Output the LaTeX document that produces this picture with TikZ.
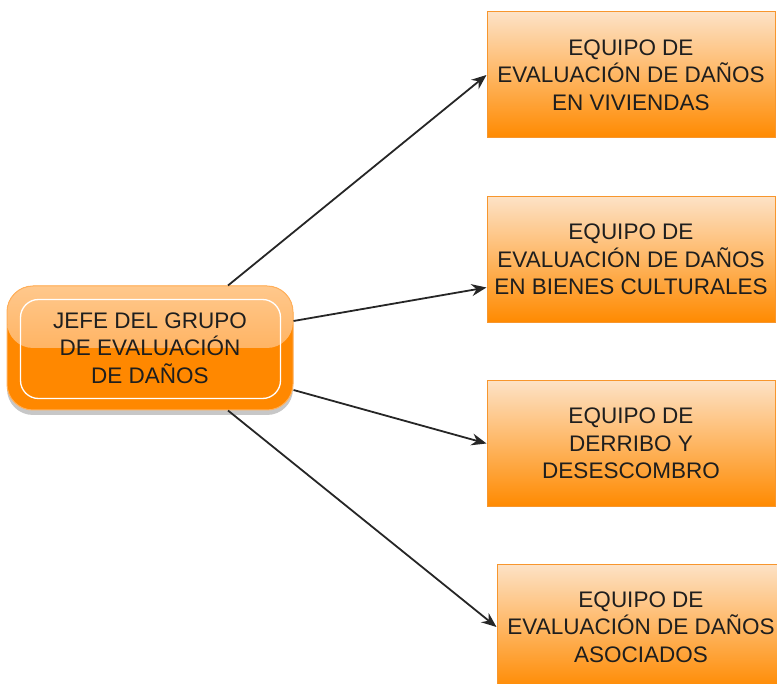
\documentclass[tikz,border=0pt]{standalone}
\usepackage{fontspec}
\setmainfont{Liberation Sans}
\usetikzlibrary{arrows.meta,calc,shadows}
\definecolor{boxtop}{RGB}{253,226,198}
\definecolor{boxbot}{RGB}{255,138,0}
\definecolor{boxline}{RGB}{247,150,45}
\definecolor{jtop}{RGB}{255,200,140}
\definecolor{jmid}{RGB}{255,160,60}
\definecolor{jbot}{RGB}{255,136,0}
\definecolor{jline}{RGB}{255,175,90}
\definecolor{txt}{RGB}{30,30,30}
\begin{document}
\begin{tikzpicture}[x=1pt,y=1pt,
  team/.style={draw=boxline, line width=1pt, top color=boxtop, bottom color=boxbot,
    minimum width=288pt, minimum height=126pt, align=center, inner sep=0pt,
    text=txt, font=\fontsize{22.5}{27.5}\selectfont},
  chief/.style={draw=jline, line width=1pt, fill=jbot, rounded corners=26pt,
    minimum width=286pt, minimum height=124pt, align=center, inner sep=0pt,
    text=txt, font=\fontsize{22.5}{27.5}\selectfont,
    drop shadow={shadow xshift=0pt, shadow yshift=-5pt, opacity=0.22, fill=black},
    path picture={\fill[top color=jtop, bottom color=jmid]
      (path picture bounding box.north west) rectangle (path picture bounding box.east);}},
  link/.style={draw=black!85, line width=1.8pt,
    -{Stealth[length=15pt,width=12pt,inset=5pt]}}]
\useasboundingbox (0,0) rectangle (777,-684);
\clip (0,0) rectangle (777,-684);

\node[chief] (jefe) at (150,-348) {JEFE DEL GRUPO\\DE EVALUACIÓN\\DE DAÑOS};
\draw[white, line width=1.3pt, rounded corners=18pt]
  ($(jefe.north west)+(14,-14)$) rectangle ($(jefe.south east)+(-13,12)$);

\node[team] (b1) at (631,-75) {EQUIPO DE\\EVALUACIÓN DE DAÑOS\\EN VIVIENDAS};
\node[team] (b2) at (631,-259.5) {EQUIPO DE\\EVALUACIÓN DE DAÑOS\\EN BIENES CULTURALES};
\node[team] (b3) at (631,-443.5) {EQUIPO DE\\DERRIBO Y\\DESESCOMBRO};
\node[team] (b4) at (641,-627) {EQUIPO DE\\EVALUACIÓN DE DAÑOS\\ASOCIADOS};

\draw[link] ($(jefe.north)+(78,0)$) -- (b1.west);
\draw[link] ($(jefe.east)+(0,27)$) -- ($(b2.west)+(0,-28)$);
\draw[link] ($(jefe.east)+(0,-42)$) -- (b3.west);
\draw[link] ($(jefe.south)+(78,0)$) -- (b4.west);
\end{tikzpicture}
\end{document}
